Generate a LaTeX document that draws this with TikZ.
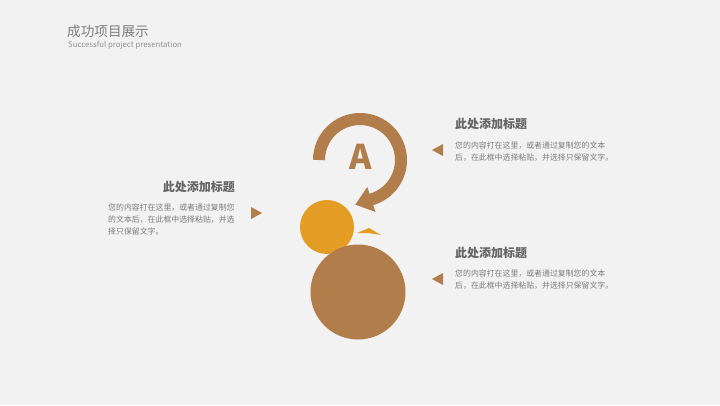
\documentclass[tikz,border=0pt]{standalone}
\usepackage{fontspec}
\setmainfont{Noto Sans CJK SC}
\usetikzlibrary{arrows.meta}
\definecolor{bronze}{RGB}{177,125,74}
\definecolor{amber}{RGB}{227,156,36}
\definecolor{paper}{RGB}{242,242,242}
\definecolor{ink}{RGB}{125,125,125}
\definecolor{darkink}{RGB}{100,100,100}
\begin{document}
\begin{tikzpicture}[x=1pt,y=-1pt,
  heading/.style={font=\fontsize{12}{14}\selectfont\bfseries, text=darkink, inner sep=0pt},
  body/.style={font=\fontsize{7.9}{12}\selectfont, text=ink, align=left, inner sep=0pt},
  pointer/.style={fill=bronze}]
\fill[paper] (0,0) rectangle (720,405);
\node [anchor=west, inner sep=0pt, text=ink, font=\fontsize{13.6}{14}\selectfont] (title) at (67,31) {成功项目展示};
\node [anchor=west, inner sep=0pt, text=ink!85, font=\fontsize{7.8}{8}\selectfont] (subtitle) at (68,45) {Successful project presentation};

\draw [bronze, line width=12pt, -{Triangle[width=25pt,length=17pt]}] (360,160) ++(180:41) arc [start angle=180, end angle=432, radius=41] -- ++(-17.5,5.7);
\node [text=bronze, inner sep=0pt, font=\fontsize{34}{34}\selectfont\bfseries] (letter) at (361,157) {A};

\node [circle, fill=amber, inner sep=0pt, minimum size=54pt] (small) at (327,227) {};
\fill [amber] (357,233) -- (369,228) -- (381,235) -- (368,233) -- cycle;
\node [circle, fill=bronze, inner sep=0pt, minimum size=95pt] (big) at (358,292) {};

\node [heading, anchor=west] (headA) at (455,124) {此处添加标题};
\node [body, anchor=north west] (textA) at (455,142) {您的内容打在这里，或者通过复制您的文本\\后，在此框中选择粘贴，并选择只保留文字。};
\fill [pointer] (432,150) -- (443,144) -- (443,156) -- cycle;

\node [heading, anchor=east] (headB) at (235,187) {此处添加标题};
\node [body, anchor=north west] (textB) at (108,204) {您的内容打在这里，或者通过复制您\\的文本后，在此框中选择粘贴，并选\\择只保留文字。};
\fill [pointer] (262,213) -- (251,207) -- (251,219) -- cycle;

\node [heading, anchor=west] (headC) at (455,253) {此处添加标题};
\node [body, anchor=north west] (textC) at (455,270) {您的内容打在这里，或者通过复制您的文本\\后，在此框中选择粘贴，并选择只保留文字。};
\fill [pointer] (432,279) -- (443,273) -- (443,285) -- cycle;
\end{tikzpicture}
\end{document}
